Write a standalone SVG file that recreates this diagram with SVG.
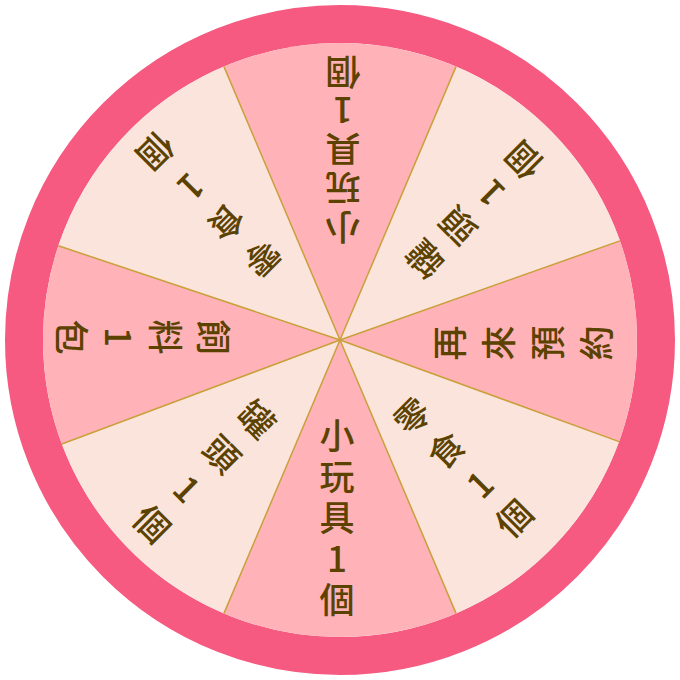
<svg xmlns="http://www.w3.org/2000/svg" width="680" height="680" viewBox="0 0 680 680">
<style>
.pink{fill:#FFB2B8}
.light{fill:#FAE4DB}
.t{font-family:"Noto Sans CJK TC","Noto Sans CJK JP",sans-serif;font-size:35px;font-weight:500;fill:#5B4200;writing-mode:vertical-rl;text-orientation:upright;text-anchor:start}
.div{stroke:#C9A03A;stroke-width:1.5;fill:none}
</style>
<rect width="680" height="680" fill="#FFFFFF"/>
<circle id="rim" cx="340" cy="340" r="316" fill="none" stroke="#F65A80" stroke-width="38"/>
<g id="seg-top">
<path class="pink" d="M340,340 L223.95,66.61 A297,297 0 0 1 456.05,66.61 Z"/>
<text class="t" x="337" y="435.5" letter-spacing="3.75" transform="rotate(180 340 340)">小玩具1個</text>
</g>
<g id="seg-upper-right">
<path class="light" d="M340,340 L456.05,66.61 A297,297 0 0 1 619.96,240.86 Z"/>
<text class="t" x="337" y="440.5" letter-spacing="11.3" transform="rotate(-135 340 340)">罐頭1個</text>
</g>
<g id="seg-right">
<path class="pink" d="M340,340 L619.96,240.86 A297,297 0 0 1 619.09,441.58 Z"/>
<text class="t" x="337" y="432.5" letter-spacing="14" transform="rotate(-90 340 340)">再來預約</text>
</g>
<g id="seg-lower-right">
<path class="light" d="M340,340 L619.09,441.58 A297,297 0 0 1 456.05,613.39 Z"/>
<text class="t" x="337" y="427.5" letter-spacing="13" transform="rotate(-45 340 340)">零食1個</text>
</g>
<g id="seg-bottom">
<path class="pink" d="M340,340 L456.05,613.39 A297,297 0 0 1 223.95,613.39 Z"/>
<text class="t" x="337" y="418.5" letter-spacing="6">小玩具1個</text>
</g>
<g id="seg-lower-left">
<path class="light" d="M340,340 L223.95,613.39 A297,297 0 0 1 61.81,444.01 Z"/>
<text class="t" x="337" y="437.5" letter-spacing="14.3" transform="rotate(45 340 340)">罐頭1個</text>
</g>
<g id="seg-left">
<path class="pink" d="M340,340 L61.81,444.01 A297,297 0 0 1 58.35,245.76 Z"/>
<text class="t" x="337" y="449.5" letter-spacing="12.3" transform="rotate(90 340 340)">飼料1包</text>
</g>
<g id="seg-upper-left">
<path class="light" d="M340,340 L58.35,245.76 A297,297 0 0 1 223.95,66.61 Z"/>
<text class="t" x="337" y="435.5" letter-spacing="15.3" transform="rotate(135 340 340)">零食1個</text>
</g>
<g id="dividers">
<path class="div" d="M340,340 L456.05,66.61 M340,340 L619.96,240.86 M340,340 L619.09,441.58 M340,340 L456.05,613.39 M340,340 L223.95,613.39 M340,340 L61.81,444.01 M340,340 L58.35,245.76 M340,340 L223.95,66.61"/>
</g>
</svg>
